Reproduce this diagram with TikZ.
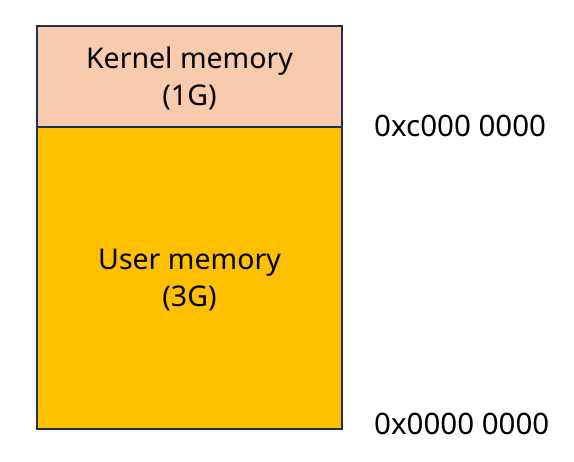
\documentclass[tikz,border=0pt]{standalone}
\usepackage{fontspec}
\setmainfont{Noto Sans}
\definecolor{kern}{HTML}{F8CBAD}
\definecolor{user}{HTML}{FFC000}
\definecolor{edge}{HTML}{1F3050}
\begin{document}
\begin{tikzpicture}[x=1pt,y=-1pt,
  region/.style={draw=edge,line width=2pt},
  lab/.style={font=\fontsize{28.5}{37}\selectfont,align=center,text=black,inner sep=0pt},
  addr/.style={font=\fontsize{29.5}{30}\selectfont,anchor=west,inner sep=0pt,text=black}]
\useasboundingbox (0,0) rectangle (574,462);
\fill[kern] (37,26) rectangle (342,127);
\fill[user] (37,127) rectangle (342,429);
\draw[region] (37,127) -- (342,127);
\draw[region] (37,26) rectangle (342,429);
\node[lab] (k) at (189.5,78) {Kernel memory\\(1G)};
\node[lab] (u) at (189.5,280) {User memory\\(3G)};
\node[addr] (a1) at (374,126) {0xc000 0000};
\node[addr] (a0) at (374,424) {0x0000 0000};
\end{tikzpicture}
\end{document}
